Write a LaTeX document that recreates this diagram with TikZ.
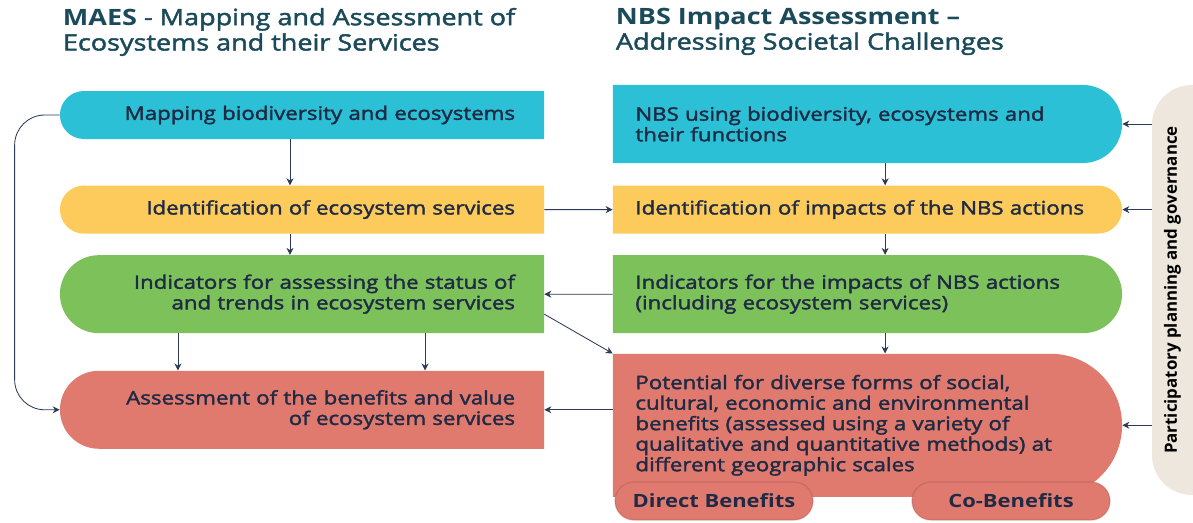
\documentclass[tikz,border=0pt]{standalone}
\usepackage{fontspec}
\setmainfont{Open Sans}[FakeStretch=1.2]
\newfontfamily\semifont{Open Sans}[FakeStretch=1.2, FakeBold=2]
\newfontfamily\plainfont{Open Sans}
\usepackage{graphicx}
\usetikzlibrary{positioning,calc,arrows.meta}

\definecolor{cyanbox}{HTML}{2BC0D6}
\definecolor{yellowbox}{HTML}{FDCB5B}
\definecolor{greenbox}{HTML}{7DC15B}
\definecolor{redbox}{HTML}{E07A6E}
\definecolor{govbg}{HTML}{EEE7DD}
\definecolor{arrowcol}{HTML}{2B3A55}
\definecolor{titlecol}{HTML}{1B4B5A}
\definecolor{textcol}{HTML}{1F2A44}

\begin{document}
\begin{tikzpicture}[
  x=0.025cm, y=-0.025cm,
  every node/.style={font=\semifont\fontsize{13.2}{14.6}\selectfont, text=textcol},
  title/.style={font=\semifont\fontsize{16}{18}\selectfont, text=titlecol, align=left, anchor=north west},
  lbox/.style={rectangle, inner sep=0pt, minimum width=12.1cm, text width=10.65cm, align=right,
    path picture={\fill[#1] let \p1=(path picture bounding box.north west), \p2=(path picture bounding box.south east), \n1={(\y1-\y2)/2}
      in (\x2,\y1) -- (\x1+\n1,\y1) arc[start angle=90, end angle=270, radius=\n1] -- (\x2,\y2) -- cycle;}},
  rbox/.style={rectangle, inner sep=0pt, minimum width=12.725cm, text width=11.6cm, align=left,
    path picture={\fill[#1] let \p1=(path picture bounding box.north west), \p2=(path picture bounding box.south east), \n1={(\y1-\y2)/2}
      in (\x1,\y1) -- (\x2-\n1,\y1) arc[start angle=90, end angle=-90, radius=\n1] -- (\x1,\y2) -- cycle;}},
  pill/.style={rectangle, rounded corners=0.475cm, minimum width=4.95cm, minimum height=0.95cm, fill=redbox, draw=redbox!70!black, draw opacity=0.35, line width=0.9pt, font=\rmfamily\bfseries\fontsize{13}{14.6}\selectfont},
  govbar/.style={rectangle, inner sep=0pt, minimum width=1.025cm, minimum height=10.25cm, text=black, font=\plainfont\bfseries\fontsize{12}{14}\selectfont,
    path picture={\fill[govbg, rounded corners=1cm] (path picture bounding box.south west) rectangle ([xshift=1cm]path picture bounding box.north east);}},
  arrow/.style={-{Stealth[length=5pt,width=5pt]}, draw=arrowcol, line width=0.6pt}
]
\useasboundingbox (0,0) rectangle (1193,522);
\clip (0,0) rectangle (1193,522);

% Titles
\node[title] (maes) at (58,3) {{\rmfamily\bfseries MAES} - Mapping and Assessment of\\Ecosystems and their Services};
\node[title] (nbs) at (611,3) {{\rmfamily\bfseries NBS Impact Assessment --}\\Addressing Societal Challenges};

% Left column
\node[lbox=cyanbox, minimum height=1.2cm] (map) at (302,115) {Mapping biodiversity and ecosystems};
\node[lbox=yellowbox, minimum height=1.2cm, below=1.15cm of map] (ident) {Identification of ecosystem services};
\node[lbox=greenbox, minimum height=1.95cm, below=0.525cm of ident] (indic) {Indicators for assessing the status of\\and trends in ecosystem services};
\node[lbox=redbox, minimum height=1.95cm, below=0.925cm of indic] (assess) {Assessment of the benefits and value\\of ecosystem services};

% Right column
\node[rbox=cyanbox, minimum height=1.95cm] (nbsuse) at (867.5,124) {NBS using biodiversity, ecosystems and\\their functions};
\node[rbox=yellowbox, minimum height=1.2cm, below=0.55cm of nbsuse] (impact) {Identification of impacts of the NBS actions};
\node[rbox=greenbox, minimum height=1.95cm, below=0.525cm of impact] (nbsind) {Indicators for the impacts of NBS actions\\(including ecosystem services)};
\node[rbox=redbox, minimum height=3.575cm, below=0.5cm of nbsind] (potential) {Potential for diverse forms of social,\\cultural, economic and environmental\\benefits (assessed using a variety of\\qualitative and quantitative methods) at\\different geographic scales};
\node[pill] (direct) at (714,501) {Direct Benefits};
\node[pill] (cobenefit) at (1011,501) {Co-Benefits};

% Side bar
\node[govbar] (gov) at (1172.5,290) {\rotatebox{90}{Participatory planning and governance}};

% Arrows
\draw[arrow] ([xshift=-0.3cm]map.south) -- ([xshift=-0.3cm]ident.north);
\draw[arrow] ([xshift=-0.3cm]ident.south) -- ([xshift=-0.3cm]indic.north);
\draw[arrow] ([xshift=-3.1cm]indic.south) -- ([xshift=-3.1cm]assess.north);
\draw[arrow] ([xshift=3.075cm]indic.south) -- ([xshift=3.075cm]assess.north);
\draw[arrow, rounded corners=0.75cm] (map.west) -- ++(-45,0) |- (assess.west);
\draw[arrow] (ident.east) -- (impact.west);
\draw[arrow] (nbsind.west) -- (indic.east);
\draw[arrow] ([yshift=-0.5cm]indic.east) -- (potential.north west);
\draw[arrow] (potential.west |- assess.east) -- (assess.east);
\draw[arrow] ([xshift=0.44cm]nbsuse.south) -- ([xshift=0.44cm]impact.north);
\draw[arrow] ([xshift=0.44cm]impact.south) -- ([xshift=0.44cm]nbsind.north);
\draw[arrow] ([xshift=0.44cm]nbsind.south) -- ([xshift=0.44cm]potential.north);
\draw[arrow] (gov.west |- nbsuse.east) -- (nbsuse.east);
\draw[arrow] (gov.west |- impact.east) -- (impact.east);
\draw[arrow] (gov.west |- potential.east) -- (potential.east);

\end{tikzpicture}
\end{document}
